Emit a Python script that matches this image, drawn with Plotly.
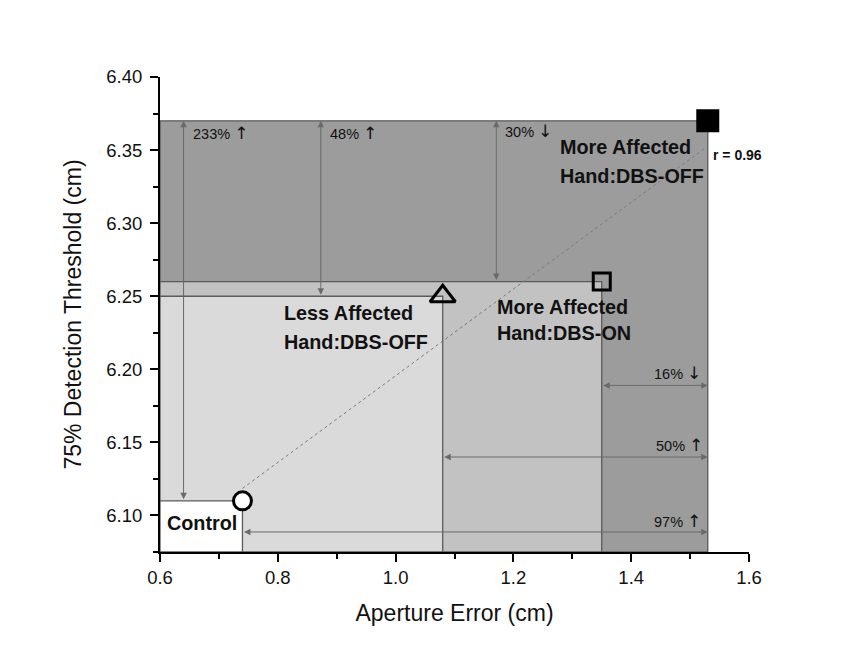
import numpy as np
import plotly.graph_objects as go

# ---- data ----
groups = ["Control", "Less Affected Hand:DBS-OFF", "More Affected Hand:DBS-ON", "More Affected Hand:DBS-OFF"]
aperture_error = [0.74, 1.08, 1.35, 1.53]
threshold = [6.11, 6.25, 6.26, 6.37]
vertical_changes = ["233%", "48%", "30%"]
vertical_dirs = ["\u2191", "\u2191", "\u2193"]
horizontal_changes = ["16%", "50%", "97%"]
horizontal_dirs = ["\u2193", "\u2191", "\u2191"]
r_label = "r = 0.96"
x_ticks = [0.6, 0.8, 1.0, 1.2, 1.4, 1.6]
y_ticks = [6.10, 6.15, 6.20, 6.25, 6.30, 6.35, 6.40]

X0, X1 = 0.6, 1.6
Y0, Y1 = 6.075, 6.40
FONT = "Liberation Sans, Arial, sans-serif"
EDGE = "#5a5a5a"

fig = go.Figure()

# shaded rectangles (largest first)
fills = ["#ffffff", "#dadada", "#c2c2c2", "#9c9c9c"]
for i in [3, 2, 1, 0]:
    fig.add_shape(type="rect", x0=X0, x1=aperture_error[i], y0=Y0, y1=threshold[i],
                  xref="x", yref="y", fillcolor=fills[i],
                  line=dict(color=EDGE, width=1.3), layer="below")

# regression line
slope, intercept = np.polyfit(aperture_error, threshold, 1)
lx = np.array([min(aperture_error), max(aperture_error)])
fig.add_trace(go.Scatter(x=lx, y=slope * lx + intercept, mode="lines",
                         line=dict(color="#7a7a7a", width=1, dash="dot"),
                         hoverinfo="skip", showlegend=False))

# markers
symbols = ["circle", "triangle-up-open", "square-open", "square"]
sizes = [18, 22, 17, 20]
mfill = ["white", "black", "black", "black"]
for i in range(4):
    fig.add_trace(go.Scatter(x=[aperture_error[i]], y=[threshold[i]], mode="markers",
                             marker=dict(symbol=symbols[i], size=sizes[i], color=mfill[i],
                                         line=dict(color="black", width=3)),
                             name=groups[i], showlegend=False))

ARROW = "#6a6a6a"
def darrow(x, y, ax, ay):
    fig.add_annotation(x=x, y=y, ax=ax, ay=ay, xref="x", yref="y", axref="x", ayref="y",
                       text="", showarrow=True, arrowhead=2, startarrowhead=2,
                       arrowside="end+start", arrowsize=1.3, startarrowsize=1.3,
                       arrowwidth=1, arrowcolor=ARROW)

# vertical double arrows
darrow(0.640, threshold[3], 0.640, threshold[0])
darrow(0.873, threshold[3], 0.873, threshold[1])
darrow(1.171, threshold[3], 1.171, threshold[2])
# horizontal double arrows
darrow(aperture_error[3], 6.189, aperture_error[2], 6.189)
darrow(aperture_error[3], 6.140, aperture_error[1], 6.140)
darrow(aperture_error[3], 6.0887, aperture_error[0], 6.0887)

def label(x, y, text, size, bold=False, anchor="left"):
    fig.add_annotation(x=x, y=y, xref="x", yref="y", text=("<b>%s</b>" % text) if bold else text,
                       showarrow=False, xanchor=anchor, yanchor="middle",
                       font=dict(family=FONT, size=size, color="#111111"))

def pct(value, direction):
    return "%s <span style=\"font-family:DejaVu Sans;font-size:17px\">%s</span>" % (value, direction)

# percent labels
label(0.652, 6.3617, pct(vertical_changes[0], vertical_dirs[0]), 14.5)
label(0.885, 6.3617, pct(vertical_changes[1], vertical_dirs[1]), 14.5)
label(1.182, 6.3628, pct(vertical_changes[2], vertical_dirs[2]), 14.5)
label(1.522, 6.1976, pct(horizontal_changes[0], horizontal_dirs[0]), 14.5, anchor="right")
label(1.525, 6.1483, pct(horizontal_changes[1], horizontal_dirs[1]), 14.5, anchor="right")
label(1.522, 6.0964, pct(horizontal_changes[2], horizontal_dirs[2]), 14.5, anchor="right")

# group labels
label(1.275, 6.3521, "More Affected", 19.8, True)
label(1.275, 6.3326, "Hand:DBS-OFF", 19.8, True)
label(0.807, 6.2384, "Less Affected", 19.8, True)
label(0.807, 6.2190, "Hand:DBS-OFF", 19.8, True)
label(1.168, 6.2429, "More Affected", 19.8, True)
label(1.168, 6.2247, "Hand:DBS-ON", 19.8, True)
label(0.609, 6.0950, groups[0], 19.8, True)
label(1.535, 6.3463, r_label, 14, True)

axis_common = dict(showline=True, linecolor="black", linewidth=2, ticks="outside",
                   ticklen=8, tickwidth=1.5, tickcolor="black", showgrid=False, zeroline=False,
                   tickfont=dict(family=FONT, size=18.5, color="#111111"), mirror=False)
fig.update_xaxes(range=[X0, X1], tickvals=x_ticks, ticktext=["%.1f" % v for v in x_ticks],
                 minor=dict(ticks="outside", ticklen=5, tickwidth=1.5, tickcolor="black", dtick=0.1, tick0=0.6),
                 title=dict(text="Aperture Error (cm)", font=dict(family=FONT, size=23, color="#111111"), standoff=18),
                 **axis_common)
fig.update_yaxes(range=[Y0, Y1], tickvals=y_ticks, ticktext=["%.2f" % v for v in y_ticks],
                 minor=dict(ticks="outside", ticklen=5, tickwidth=1.5, tickcolor="black", dtick=0.025, tick0=6.1),
                 ticklabelstandoff=4,
                 title=dict(text="75% Detection Threshold (cm)", font=dict(family=FONT, size=23, color="#111111"), standoff=18),
                 **axis_common)

fig.update_layout(width=860, height=658, plot_bgcolor="white", paper_bgcolor="white",
                  margin=dict(l=151.5, r=119, t=69.3, b=114), showlegend=False)

fig.write_html("out.html")
